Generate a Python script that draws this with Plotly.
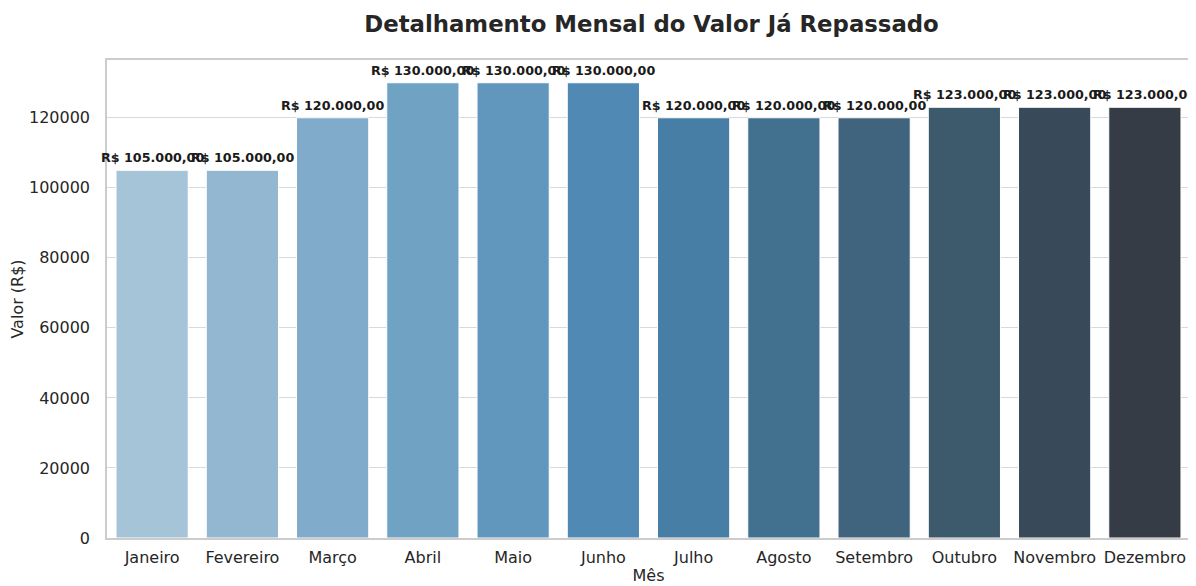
import plotly.graph_objects as go

meses = ["Janeiro", "Fevereiro", "Março", "Abril", "Maio", "Junho",
         "Julho", "Agosto", "Setembro", "Outubro", "Novembro", "Dezembro"]
valores = [105000, 105000, 120000, 130000, 130000, 130000,
           120000, 120000, 120000, 123000, 123000, 123000]
cores = ["#a5c4d8", "#93b7d0", "#80abca", "#70a2c3", "#6297bd", "#5089b3",
         "#467ea5", "#42708f", "#40647d", "#3d5a6c", "#384a59", "#353c45"]
yticks = [0, 20000, 40000, 60000, 80000, 100000, 120000]


def brl(v):
    s = f"{v:,.2f}"
    s = s.replace(",", "X").replace(".", ",").replace("X", ".")
    return "R$ " + s


fig = go.Figure()
fig.add_trace(go.Bar(
    x=meses, y=valores,
    marker=dict(color=cores, line=dict(color="white", width=1)),
    width=0.8,
    showlegend=False,
    hoverinfo="x+y",
))

for m, v in zip(meses, valores):
    fig.add_annotation(x=m, y=v, text="<b>" + brl(v) + "</b>", showarrow=False,
                       yanchor="bottom", yshift=3,
                       font=dict(family="DejaVu Sans", size=12.7, color="#1a1a1a"))

font_axes = dict(family="DejaVu Sans", size=16, color="#262626")

# page body has an 8px margin; compensate so the figure fills the window
fig.update_layout(
    width=1188, height=578,
    paper_bgcolor="white", plot_bgcolor="white",
    margin=dict(l=99, r=6, t=52, b=48, autoexpand=False),
    title=dict(text="<b>Detalhamento Mensal do Valor Já Repassado</b>",
               x=0.5417, xanchor="center", y=0.973, yanchor="middle",
               font=dict(family="DejaVu Sans", size=22.8, color="#262626")),
    bargap=0.2,
)
fig.update_xaxes(
    range=[-0.5, 11.5], showgrid=False, showline=True, mirror=True,
    linecolor="#cccccc", linewidth=1.5, ticks="", tickfont=font_axes,
    automargin=False, ticklabelstandoff=4,
    title=dict(text="Mês", font=font_axes, standoff=4),
)
fig.update_yaxes(
    range=[0, 136500], tickvals=yticks, ticktext=[str(t) for t in yticks],
    showgrid=True, gridcolor="#d9d9d9", gridwidth=1.2, zeroline=False,
    showline=True, mirror=True, linecolor="#cccccc", linewidth=1.5,
    ticks="", tickfont=font_axes, automargin=False, ticklabelstandoff=12,
    title=dict(text="Valor (R$)", font=font_axes, standoff=12),
)

fig.write_html("out.html")
